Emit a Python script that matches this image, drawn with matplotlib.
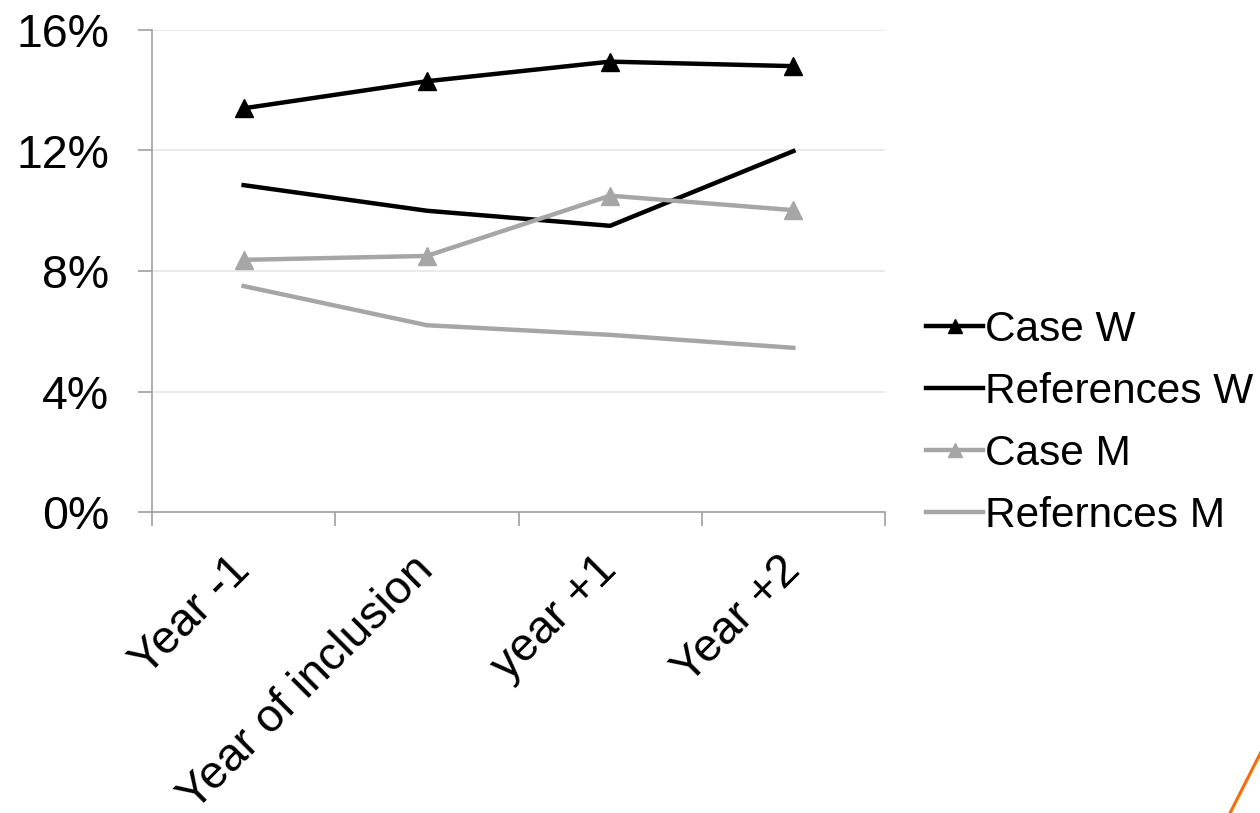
import matplotlib
matplotlib.use("Agg")
import matplotlib.pyplot as plt
from matplotlib.lines import Line2D
from matplotlib.ticker import FuncFormatter, FixedLocator

plt.rcParams['font.family'] = ['Liberation Sans', 'DejaVu Sans']

categories = ["Year -1", "Year of inclusion", "year +1", "Year +2"]
case_w = [13.4, 14.3, 14.95, 14.8]
references_w = [10.85, 10.0, 9.5, 11.98]
case_m = [8.37, 8.5, 10.5, 10.02]
refernces_m = [7.5, 6.2, 5.88, 5.45]
y_ticks = [0, 4, 8, 12, 16]

BLACK = "#000000"
GRAY = "#A6A6A6"

fig = plt.figure(figsize=(12.6, 8.13), dpi=100)
ax = fig.add_axes([152/1260, 1-512/813, (885-152)/1260, (512-30)/813])

x = list(range(len(categories)))
lw = 3.2
ms = 13
ax.plot(x, case_w, color=BLACK, lw=lw, marker='^', ms=ms, label="Case W")
ax.plot(x, references_w, color=BLACK, lw=lw, label="References W")
ax.plot(x, case_m, color=GRAY, lw=lw, marker='^', ms=ms, label="Case M")
ax.plot(x, refernces_m, color=GRAY, lw=lw, label="Refernces M")

ax.set_xlim(-0.5, len(categories) - 0.5)
ax.set_ylim(0, 16)
ax.set_yticks(y_ticks)
ax.yaxis.set_major_formatter(FuncFormatter(lambda v, p: f"{v:.0f}%"))
ax.grid(axis='y', color='#E6E6E6', lw=1.2)
ax.set_axisbelow(True)

ax.set_xticks(x)
ax.set_xticklabels(categories, rotation=45, ha='right', va='center',
                   rotation_mode='anchor', fontsize=33.5)
ax.xaxis.set_minor_locator(FixedLocator([i - 0.5 for i in range(len(categories) + 1)]))
ax.tick_params(axis='x', which='major', length=0, pad=37)
ax.tick_params(axis='x', which='minor', length=10, width=1.2, color='#A0A0A0', direction='out')
ax.tick_params(axis='y', length=10, width=1.2, color='#A0A0A0', labelsize=33.5, pad=21)

for s in ['top', 'right']:
    ax.spines[s].set_visible(False)
for s in ['left', 'bottom']:
    ax.spines[s].set_color('#A0A0A0')
    ax.spines[s].set_linewidth(1.2)

leg = fig.legend(loc='center left', bbox_to_anchor=(926/1260, 1-423/813),
                 frameon=False, fontsize=30.5, handlelength=1.35, handletextpad=0.05,
                 labelspacing=0.52, borderpad=0, borderaxespad=0, markerscale=0.75)

# decorative orange stroke at bottom-right
fig.add_artist(Line2D([1230/1260, 1262/1260], [0, 1-750/813], transform=fig.transFigure,
                      color='#FF6A00', lw=2.2))

fig.savefig("out.png", dpi=100)
